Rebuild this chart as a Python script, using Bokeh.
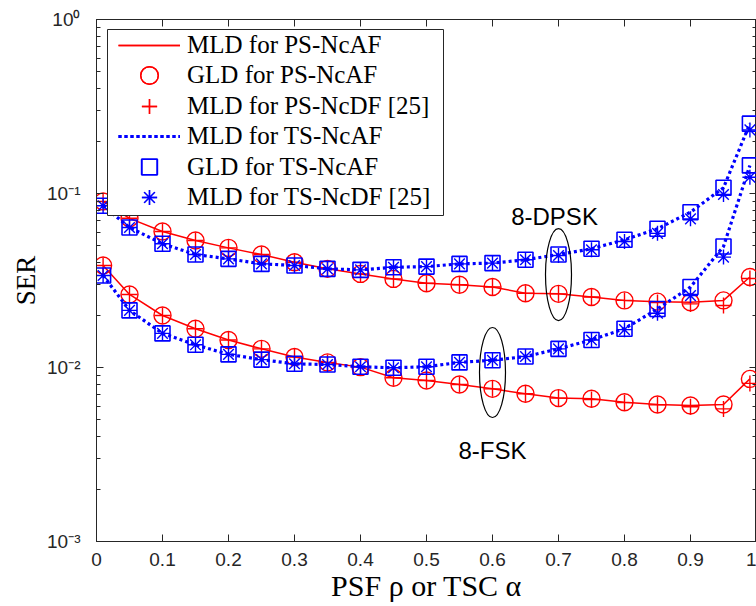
from bokeh.plotting import figure
from bokeh.models import (Range1d, LinearAxis, LogAxis, FixedTicker, CustomJSTickFormatter,
                          Legend, LegendItem, BoxAnnotation)
from bokeh.core.properties import value
from bokeh.embed import file_html
from bokeh.resources import INLINE

# ---------------- data ----------------
psf = [0.01, 0.05, 0.1, 0.15, 0.2, 0.25, 0.3, 0.35, 0.4, 0.45, 0.5,
       0.55, 0.6, 0.65, 0.7, 0.75, 0.8, 0.85, 0.9, 0.95, 0.99]

# 8-DPSK
dpsk_ps_mld = [0.090, 0.072, 0.0605, 0.0537, 0.0487, 0.0446, 0.0403, 0.0369, 0.0345, 0.0323, 0.0305,
               0.0299, 0.0290, 0.0267, 0.0265, 0.0254, 0.0243, 0.0239, 0.0237, 0.0243, 0.0331]
dpsk_ps_gld = [0.090, 0.072, 0.0605, 0.0537, 0.0487, 0.0446, 0.0403, 0.0369, 0.0345, 0.0323, 0.0305,
               0.0299, 0.0290, 0.0267, 0.0265, 0.0254, 0.0243, 0.0239, 0.0237, 0.0243, 0.0331]
dpsk_ps_ncdf = [0.090, 0.072, 0.0605, 0.0537, 0.0487, 0.0446, 0.0403, 0.0369, 0.0345, 0.0323, 0.0305,
                0.0299, 0.0290, 0.0267, 0.0265, 0.0254, 0.0243, 0.0236, 0.0232, 0.0227, 0.0325]
dpsk_ts_mld = [0.085, 0.0638, 0.0514, 0.0446, 0.0421, 0.0394, 0.0386, 0.0369, 0.0364, 0.0377, 0.0380,
               0.0394, 0.0398, 0.0416, 0.0446, 0.0481, 0.0542, 0.0627, 0.0781, 0.108, 0.252]
dpsk_ts_gld = [0.085, 0.0638, 0.0514, 0.0446, 0.0421, 0.0394, 0.0386, 0.0369, 0.0364, 0.0377, 0.0380,
               0.0394, 0.0398, 0.0416, 0.0446, 0.0481, 0.0542, 0.0627, 0.0781, 0.108, 0.252]
dpsk_ts_ncdf = [0.085, 0.0638, 0.0514, 0.0446, 0.0421, 0.0394, 0.0386, 0.0369, 0.0364, 0.0377, 0.0380,
                0.0394, 0.0398, 0.0416, 0.0440, 0.0475, 0.0530, 0.0590, 0.0715, 0.0987, 0.232]

# 8-FSK
fsk_ps_mld = [0.0386, 0.0263, 0.0199, 0.0167, 0.0144, 0.0128, 0.0115, 0.0107, 0.01005, 0.00873, 0.00842,
              0.00798, 0.00754, 0.00706, 0.00667, 0.00661, 0.00632, 0.00613, 0.00605, 0.00613, 0.0086]
fsk_ps_gld = [0.0386, 0.0263, 0.0199, 0.0167, 0.0144, 0.0128, 0.0115, 0.0107, 0.01005, 0.00873, 0.00842,
              0.00798, 0.00754, 0.00706, 0.00667, 0.00661, 0.00632, 0.00613, 0.00605, 0.00613, 0.0086]
fsk_ps_ncdf = [0.0386, 0.0263, 0.0199, 0.0167, 0.0144, 0.0128, 0.0115, 0.0107, 0.01005, 0.00873, 0.00842,
               0.00798, 0.00754, 0.00706, 0.00667, 0.00655, 0.00628, 0.00610, 0.00595, 0.00578, 0.0081]
fsk_ts_mld = [0.0338, 0.0213, 0.0157, 0.0135, 0.0119, 0.0111, 0.0105, 0.0104, 0.0101, 0.00996, 0.0101,
              0.0107, 0.0110, 0.01156, 0.0128, 0.0144, 0.0167, 0.0217, 0.0290, 0.0496, 0.145]
fsk_ts_gld = [0.0338, 0.0213, 0.0157, 0.0135, 0.0119, 0.0111, 0.0105, 0.0104, 0.0101, 0.00996, 0.0101,
              0.0107, 0.0110, 0.01156, 0.0128, 0.0144, 0.0167, 0.0217, 0.0290, 0.0496, 0.145]
fsk_ts_ncdf = [0.0338, 0.0213, 0.0157, 0.0135, 0.0119, 0.0111, 0.0105, 0.0104, 0.0101, 0.00996, 0.0101,
               0.0107, 0.0110, 0.01156, 0.0128, 0.0144, 0.0165, 0.0205, 0.0259, 0.0431, 0.124]

series_labels = ["MLD for PS-NcAF", "GLD for PS-NcAF", "MLD for PS-NcDF [25]",
                 "MLD for TS-NcAF", "GLD for TS-NcAF", "MLD for TS-NcDF [25]"]

x_ticks = [0, 0.1, 0.2, 0.3, 0.4, 0.5, 0.6, 0.7, 0.8, 0.9, 1.0]
x_tick_labels = ["0", "0.1", "0.2", "0.3", "0.4", "0.5", "0.6", "0.7", "0.8", "0.9", "1"]
y_ticks = [1e-3, 1e-2, 1e-1, 1e0]
y_tick_labels = ["10\u207b\u00b3", "10\u207b\u00b2", "10\u207b\u00b9", "10\u2070"]
y_minor = [m * 10.0 ** k for k in range(-3, 0) for m in range(2, 10)]

group_names = ["8-DPSK", "8-FSK"]
group_label_x = [0.694, 0.6]
group_label_y = [0.0738, 0.00333]
ellipse_x = [0.7, 0.6]
ellipse_y = [0.0342, 0.00936]

# ---------------- figure ----------------
AX = "#262626"
p = figure(width=756, height=606, x_range=Range1d(0, 1), y_range=Range1d(1e-3, 1),
           y_axis_type="log", output_backend="svg", toolbar_location=None,
           min_border_left=96, min_border_right=0, min_border_top=19, min_border_bottom=65)
p.xgrid.visible = False
p.ygrid.visible = False
p.outline_line_color = AX
p.outline_line_width = 1
p.background_fill_color = "white"
p.border_fill_color = "white"

xfmt = CustomJSTickFormatter(args=dict(tv=x_ticks, tl=x_tick_labels), code="""
const i = tv.findIndex(t => Math.abs(t - tick) < 1e-9);
return i >= 0 ? tl[i] : "";
""")
yfmt = CustomJSTickFormatter(args=dict(tv=y_ticks, tl=y_tick_labels), code="""
const i = tv.findIndex(t => Math.abs(Math.log10(t) - Math.log10(tick)) < 1e-6);
return i >= 0 ? tl[i] : "";
""")
empty_fmt = CustomJSTickFormatter(code="return '';")

xb = p.below[0]
xb.ticker = FixedTicker(ticks=x_ticks)
xb.formatter = xfmt
xb.axis_label = "PSF \u03c1 or TSC \u03b1"

yl = p.left[0]
yl.ticker = FixedTicker(ticks=y_ticks, minor_ticks=y_minor)
yl.formatter = yfmt
yl.axis_label = "SER"

for ax in (xb, yl):
    ax.major_tick_in = 7
    ax.major_tick_out = 0
    ax.minor_tick_in = 4
    ax.minor_tick_out = 0
    ax.axis_line_color = AX
    ax.major_tick_line_color = AX
    ax.minor_tick_line_color = AX
    ax.major_label_text_font = "Liberation Sans"
    ax.major_label_text_font_size = "19px"
    ax.major_label_text_color = AX
    ax.axis_label_text_font = "Liberation Serif"
    ax.axis_label_text_font_style = "normal"
    ax.axis_label_text_color = "black"

xb.major_label_standoff = 11
xb.axis_label_standoff = 0
xb.axis_label_text_font_size = "30px"
yl.major_label_standoff = 16
yl.axis_label_standoff = 3
yl.axis_label_text_font_size = "27px"

top_ax = LinearAxis(ticker=FixedTicker(ticks=x_ticks), formatter=empty_fmt,
                    major_tick_in=7, major_tick_out=0, minor_tick_in=0, minor_tick_out=0,
                    major_label_standoff=0, axis_line_color=AX, major_tick_line_color=AX)
p.add_layout(top_ax, "above")
right_ax = LogAxis(ticker=FixedTicker(ticks=y_ticks, minor_ticks=y_minor), formatter=empty_fmt,
                   major_tick_in=7, major_tick_out=0, minor_tick_in=4, minor_tick_out=0,
                   major_label_standoff=0, axis_line_color=AX, major_tick_line_color=AX,
                   minor_tick_line_color=AX)
p.add_layout(right_ax, "right")

RED = "#ff0000"
BLUE = "#0000ff"

groups = [
    (dpsk_ps_mld, dpsk_ps_gld, dpsk_ps_ncdf, dpsk_ts_mld, dpsk_ts_gld, dpsk_ts_ncdf),
    (fsk_ps_mld, fsk_ps_gld, fsk_ps_ncdf, fsk_ts_mld, fsk_ts_gld, fsk_ts_ncdf),
]
rend = [[] for _ in range(6)]
for ps_mld, ps_gld, ps_ncdf, ts_mld, ts_gld, ts_ncdf in groups:
    rend[0].append(p.line(psf, ps_mld, line_color=RED, line_width=1.5))
    rend[1].append(p.scatter(psf, ps_gld, marker="circle", size=17, fill_color=None,
                             line_color=RED, line_width=1.4))
    rend[2].append(p.scatter(psf, ps_ncdf, marker="cross", size=16,
                             line_color=RED, line_width=1.4))
    rend[3].append(p.line(psf, ts_mld, line_color=BLUE, line_width=3.2, line_dash="3 3"))
    rend[4].append(p.scatter(psf, ts_gld, marker="square", size=15, fill_color=None,
                             line_color=BLUE, line_width=1.6))
    rend[5].append(p.scatter(psf, ts_ncdf, marker="asterisk", size=15,
                             line_color=BLUE, line_width=1.4))

p.ellipse(x=ellipse_x, y=ellipse_y, width=[26, 26], height=[92, 90],
          width_units="screen", height_units="screen",
          fill_color=None, line_color="black", line_width=1.2)
p.text(x=group_label_x, y=group_label_y, text=group_names,
       text_font=value("Liberation Sans"), text_font_size="24px",
       text_align="center", text_baseline="alphabetic", text_color="black")

# legend frame (screen units, relative to the plot frame's bottom-left)
box = BoxAnnotation(left=11, right=347, top=512, bottom=326,
                    left_units="screen", right_units="screen",
                    top_units="screen", bottom_units="screen",
                    fill_color="white", fill_alpha=1.0,
                    line_color=AX, line_alpha=1.0, line_width=1)
p.add_layout(box)

# one single-entry legend per row, so that the row pitch and marker size can both match
glyph_heights = [40, 44, 38, 40, 39, 38]
row_pitch = 30.4
first_row_center = 496  # frame-relative, from bottom
for i, (lab, r) in enumerate(zip(series_labels, rend)):
    gh = glyph_heights[i]
    center = first_row_center - i * row_pitch
    lg = Legend(items=[LegendItem(label=lab, renderers=r)],
                location=(22, int(round(center - gh / 2))), padding=0, spacing=0, margin=0,
                glyph_width=62, glyph_height=gh, label_standoff=7, label_height=gh,
                label_text_font="Liberation Serif", label_text_font_size="25px",
                label_text_color="black",
                border_line_color=None, background_fill_alpha=0)
    p.add_layout(lg)

open("out.html", "w").write(file_html(p, INLINE))
